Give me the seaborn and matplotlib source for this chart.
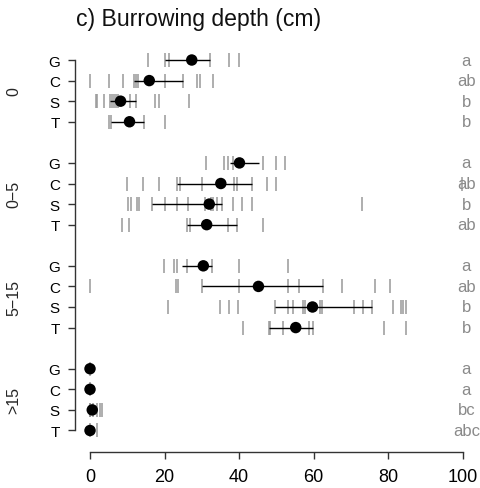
import matplotlib
matplotlib.use("Agg")
import matplotlib.pyplot as plt
import matplotlib.transforms as mtransforms
import numpy as np
import pandas as pd
import seaborn as sns

# Depth classes and treatments (top to bottom)
depth_classes = ["0", "0\u22125", "5\u221215", ">15"]
treatments = ["G", "C", "S", "T"]

# Individual burrowing depths (cm), one list per depth class x treatment
obs_0 = [
    [15.5, 20.1, 21.1, 32.3, 37.2, 40.0],
    [0.0, 5.1, 8.8, 11.9, 12.3, 12.8, 20.1, 24.9, 28.8, 29.6, 33.1],
    [1.5, 2.0, 3.8, 5.4, 5.8, 6.5, 7.0, 7.6, 10.7, 12.3, 17.4, 18.5, 26.6],
    [5.1, 5.6, 14.6, 20.1],
]
obs_0_5 = [
    [31.1, 36.0, 37.1, 38.5, 46.5, 49.9, 52.3],
    [10.0, 14.1, 18.6, 23.4, 24.1, 30.0, 38.6, 39.4, 43.4, 47.4, 49.9, 99.7],
    [10.3, 10.9, 12.5, 13.1, 16.5, 20.1, 23.3, 26.4, 30.9, 32.5, 33.1, 34.0,
     35.5, 38.5, 40.9, 43.6, 72.9],
    [8.5, 10.5, 26.1, 26.8, 37.1, 39.4, 46.5],
]
obs_5_15 = [
    [19.9, 22.6, 23.3, 25.9, 32.6, 40.0, 53.0],
    [0.0, 23.0, 23.5, 30.0, 40.0, 53.0, 56.1, 62.4, 67.5, 76.5, 80.5],
    [21.0, 34.9, 37.4, 39.6, 49.6, 53.0, 54.6, 57.2, 57.7, 61.7, 62.2, 70.9,
     73.3, 75.6, 81.4, 83.4, 84.0, 84.7],
    [41.0, 47.9, 48.3, 51.9, 58.8, 59.7, 79.0, 84.8],
]
obs_gt15 = [
    [0.0],
    [0.0],
    [0.0, 0.0, 0.0, 0.0, 0.9, 1.8, 2.6, 3.2],
    [0.0, 1.8],
]

# Means and interval limits per row
means = [27.3, 15.9, 8.2, 10.6,
         40.1, 35.1, 32.0, 31.3,
         30.4, 45.2, 59.7, 55.2,
         0.0, 0.0, 0.6, 0.0]
lows = [20.1, 11.9, 5.4, 5.6,
        37.5, 23.4, 16.5, 26.1,
        24.6, 30.0, 49.6, 47.9,
        0.0, 0.0, 0.0, 0.0]
highs = [32.3, 24.9, 12.3, 14.6,
         45.3, 43.4, 35.5, 39.4,
         32.6, 62.4, 75.6, 59.7,
         0.0, 0.0, 0.6, 0.0]

# Significance letters
letters = ["a", "ab", "b", "b",
           "a", "ab", "b", "ab",
           "a", "ab", "b", "b",
           "a", "a", "bc", "abc"]

x_ticks = [0, 20, 40, 60, 80, 100]

# ---- tidy tables ----
all_obs = [obs_0, obs_0_5, obs_5_15, obs_gt15]
rows_obs = []
rows_sum = []
k = 0
for g, (depth, group_obs) in enumerate(zip(depth_classes, all_obs)):
    for r, (trt, vals) in enumerate(zip(treatments, group_obs)):
        pos = g * 5 + r
        for v in vals:
            rows_obs.append({"depth": depth, "trt": trt, "pos": pos, "value": v})
        rows_sum.append({"depth": depth, "trt": trt, "pos": pos,
                         "mean": means[k], "lo": lows[k], "hi": highs[k],
                         "letter": letters[k]})
        k += 1
df_obs = pd.DataFrame(rows_obs)
df_sum = pd.DataFrame(rows_sum)

sns.set_style("ticks")
plt.rcParams["font.family"] = ["Liberation Sans", "DejaVu Sans"]

W, H = 480, 489
fig = plt.figure(figsize=(W / 100, H / 100), dpi=100)
ax = fig.add_axes([75.1 / W, 1 - 453 / H, (477.6 - 75.1) / W, (453 - 39.5) / H])

# raw observations as rug ticks
sns.scatterplot(data=df_obs, x="value", y="pos", marker="|", s=100,
                color="#999999", linewidth=1.1, ax=ax, legend=False, zorder=2)
# intervals
ax.hlines(df_sum["pos"], df_sum["lo"], df_sum["hi"], color="black",
          linewidth=1.0, zorder=3)
# means
sns.scatterplot(data=df_sum, x="mean", y="pos", s=68, color="black",
                edgecolor="none", ax=ax, legend=False, zorder=4)

ax.set_xlim(-4, 104)
ax.set_ylim(19.045, -1.045)
ax.set_xlabel("")
ax.set_ylabel("")

ax.set_xticks(x_ticks)
ax.set_xticklabels([str(t) for t in x_ticks], fontsize=13)
ax.set_yticks(df_sum["pos"])
ax.set_yticklabels(df_sum["trt"], fontsize=11)
ax.tick_params(axis="both", direction="out", length=5, width=1.0,
               color="#333333", labelcolor="black")
ax.tick_params(axis="x", pad=6.5)
ax.tick_params(axis="y", pad=6)

sns.despine(ax=ax)
ax.spines["left"].set_bounds(0, 18)
ax.spines["bottom"].set_bounds(0, 100)
for s in ("left", "bottom"):
    ax.spines[s].set_linewidth(1.0)
    ax.spines[s].set_color("#333333")

# letters on the right
for _, row in df_sum.iterrows():
    ax.text(101, row["pos"], row["letter"], ha="center", va="center",
            fontsize=12, color="#8a8a8a", clip_on=False)

# depth class labels
trans = mtransforms.blended_transform_factory(fig.transFigure, ax.transData)
for g, depth in enumerate(depth_classes):
    ax.text(14 / W, g * 5 + 1.5, depth, rotation=90, ha="center", va="center",
            fontsize=11.5, transform=trans)

fig.text(76 / W, 1 - 26 / H, "c) Burrowing depth (cm)", fontsize=16.6,
         ha="left", va="baseline", color="#111111")

fig.savefig("out.png", dpi=100)
